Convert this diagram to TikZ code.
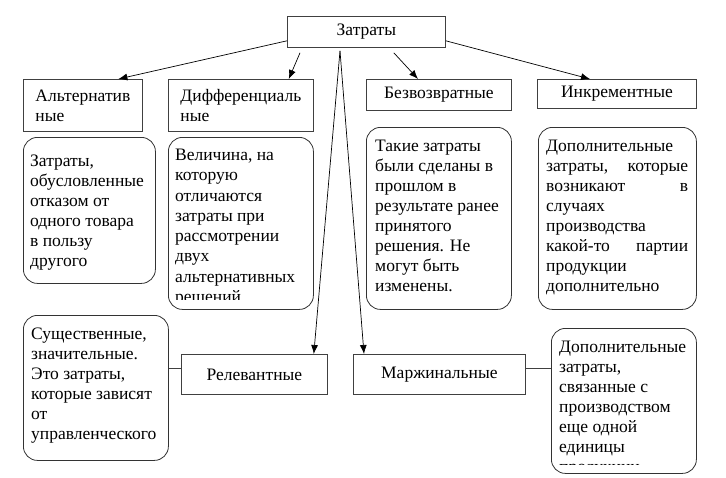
\documentclass[tikz,border=0pt]{standalone}
\usepackage{fontspec}
\setmainfont{Liberation Serif}
\usetikzlibrary{arrows.meta}

\begin{document}
\begin{tikzpicture}[x=1pt,y=-1pt,font=\fontsize{17.5}{20}\selectfont,
    box/.style={draw=black!75,line width=0.8pt,rectangle,anchor=north west,inner sep=0pt},
    note/.style={draw=black!80,line width=0.8pt,rounded corners=14pt,anchor=north west,inner sep=0pt},
    txt/.style={anchor=north west,inner sep=0pt,align=left},
    arr/.style={-{Latex[length=9pt,width=7pt]},line width=0.7pt},
    link/.style={draw=black!75,line width=0.8pt}]
      \useasboundingbox (0,0) rectangle (726,477);

      \node [box,minimum width=158pt,minimum height=31pt] (zat) at (287,16) {Затраты};
      \node [box,align=left,minimum width=119pt,minimum height=52pt] (alt) at (23,79) {Альтернатив\\ные};
      \node [box,align=left,minimum width=145pt,minimum height=52pt] (dif) at (168,79) {Дифференциаль\\ные};
      \node [box,minimum width=145pt,minimum height=31pt] (bez) at (366,79) {Безвозвратные};
      \node [box,minimum width=159pt,minimum height=29pt] (ink) at (537,79) {Инкрементные};
      \node [box,minimum width=146pt,minimum height=40pt] (rel) at (181,354) {Релевантные};
      \node [box,minimum width=172pt,minimum height=40pt] (mar) at (353,354) {Маржинальные};

      \node [note,minimum width=132pt,minimum height=146pt] (altn) at (23,137) {};
      \node [txt] (altt) at (30,152) {\strut Затраты,\\обусловленные\\отказом от\\одного товара\\в пользу\\другого};

      \node [note,minimum width=145pt,minimum height=172pt] (difn) at (168,137) {};
      \begin{scope}
        \clip (168,137) rectangle (313,299);
        \node [txt,font=\fontsize{17.5}{20.3}\selectfont] (dift) at (175,146) {\strut Величина, на\\которую\\отличаются\\затраты при\\рассмотрении\\двух\\альтернативных\\решений};
      \end{scope}

      \node [note,minimum width=145pt,minimum height=182pt] (bezn) at (366,127) {};
      \node [txt] (bezt) at (375,137) {\strut Такие затраты\\были сделаны в\\прошлом в\\результате ранее\\принятого\\решения. Не\\могут быть\\изменены.};

      \node [note,minimum width=158pt,minimum height=182pt] (inkn) at (538,127) {};
      \node [txt] (inkt) at (546,137) {\strut Дополнительные\\\makebox[142pt][s]{затраты, которые}\\\makebox[142pt][s]{возникают в}\\случаях\\производства\\\makebox[142pt][s]{какой-то партии}\\продукции\\дополнительно};

      \node [note,minimum width=145pt,minimum height=145pt] (rnote) at (23,315) {};
      \node [txt] (rtext) at (31,325) {\strut Существенные,\\значительные.\\Это затраты,\\которые зависят\\от\\управленческого};

      \node [note,minimum width=145pt,minimum height=145pt] (mnote) at (551,328) {};
      \begin{scope}
        \clip (551,328) rectangle (696,464.5);
        \node [txt] (mtext) at (559,338.5) {\strut Дополнительные\\затраты,\\связанные с\\производством\\еще одной\\единицы\\продукции};
      \end{scope}

      \coordinate (zc) at ([xshift=53pt,yshift=-3pt]zat.south west);
      \draw [arr] ([yshift=7pt]zat.south west) -- ([xshift=35.5pt]alt.north);
      \draw [arr] ([xshift=13pt,yshift=-5pt]zat.south west) -- ([xshift=-25pt]dif.north east);
      \draw [arr] ([xshift=-52pt,yshift=-5pt]zat.south east) -- ([xshift=52pt]bez.north west);
      \draw [arr] ([yshift=7pt]zat.south east) -- ([xshift=53pt]ink.north west);
      \draw [arr] (zc) -- ([xshift=-14pt]rel.north east);
      \draw [arr] (zc) -- ([xshift=11pt]mar.north west);

      \draw [link] ([yshift=6pt]rel.west) -- ([yshift=6pt]rel.west -| rnote.east);
      \draw [link] ([yshift=6pt]mar.east) -- ([yshift=6pt]mar.east -| mnote.west);

    \end{tikzpicture}
\end{document}
